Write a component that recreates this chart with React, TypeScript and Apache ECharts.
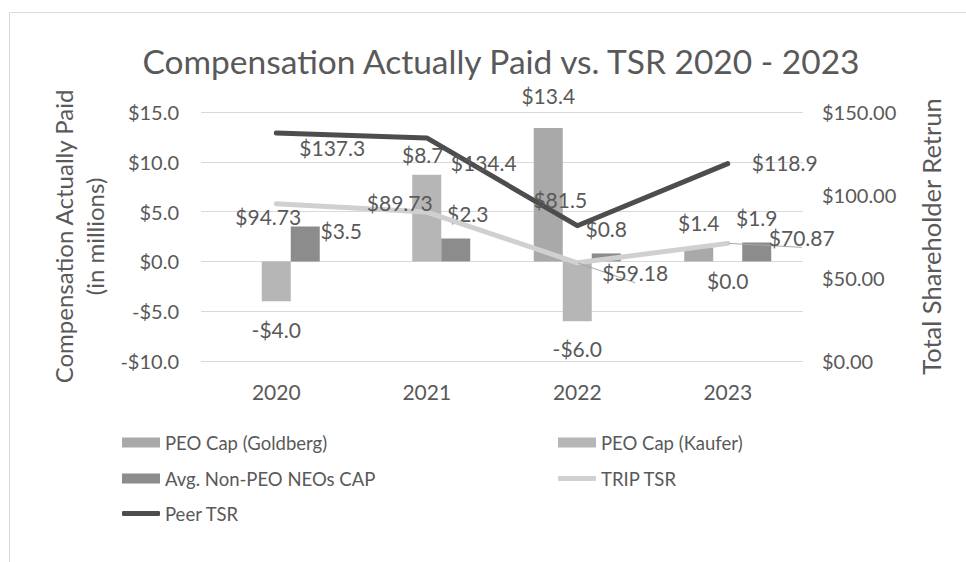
import React, { useEffect, useRef } from "react";
import * as echarts from "echarts";

const years = ["2020", "2021", "2022", "2023"];
const goldbergCap = [null, null, 13.4, 1.4];
const kauferCap = [-4.0, 8.7, -6.0, 0.0];
const avgNeoCap = [3.5, 2.3, 0.8, 1.9];
const tripTsr = [94.73, 89.73, 59.18, 70.87];
const peerTsr = [137.3, 134.4, 81.5, 118.9];

const leftTicks = { min: -10, max: 15, interval: 5 };
const rightTicks = { min: 0, max: 150, interval: 50 };

// label offsets (styling only)
const goldbergOffsets = [[0, 0], [0, 0], [0, -22], [0, -15]];
const kauferOffsets = [[0, 18], [-4, -10], [0, 17], [0, 9]];
const avgOffsets = [[36, 14], [12, -15], [0, -15], [0, -15]];
const peerOffsets = [[56, 14], [57, 25], [-17, -26], [57, -1]];
const tripOffsets = [[-8, 13], [-27, -10], [58, 10], [74, -6]];
const tripLeaders = [false, false, true, true];

const FONT = 'Lato, "Open Sans", sans-serif';
const TXT = "#595959";

const money1 = (v: number) => (v < 0 ? "-$" : "$") + Math.abs(v).toFixed(1);
const money2 = (v: number) => "$" + v.toFixed(2);

function barData(vals: (number | null)[], offs: number[][]) {
  return vals.map((v, i) =>
    v === null ? null : { value: v, label: { offset: offs[i] } }
  );
}

function lineData(vals: number[], offs: number[][], leaders?: boolean[]) {
  return vals.map((v, i) => ({
    value: v,
    label: { offset: offs[i] },
    labelLine: leaders && leaders[i]
      ? { show: true, lineStyle: { color: "#a6a6a6", width: 1 } }
      : { show: false },
  }));
}

export default function App() {
  const ref = useRef<HTMLDivElement>(null);
  useEffect(() => {
    if (!ref.current) return;
    const chart = echarts.init(ref.current, null, { renderer: "svg" });
    const barLabel = {
      show: true,
      position: "outside",
      distance: 0,
      fontSize: 21,
      lineHeight: 20,
      color: TXT,
      fontFamily: FONT,
      formatter: (p: any) => money1(p.value),
    };
    const legendBase = {
      itemWidth: 38,
      itemGap: 5,
      padding: 0,
      textStyle: { fontSize: 18.5, color: TXT, fontFamily: FONT },
      selectedMode: false,
    };
    chart.setOption({
      animation: false,
      backgroundColor: "#ffffff",
      textStyle: { fontFamily: FONT },
      title: {
        text: "Compensation Actually Paid vs. TSR 2020 - 2023",
        left: 496,
        top: 39,
        textAlign: "center",
        textStyle: { fontSize: 33.5, fontWeight: "normal", color: TXT, fontFamily: FONT },
      },
      graphic: [
        {
          type: "rect",
          shape: { x: 9.5, y: 12.5, width: 1000, height: 600 },
          style: { fill: "none", stroke: "#d9d9d9", lineWidth: 1 },
          silent: true,
        },
      ],
      grid: { left: 201, right: 163, top: 112, bottom: 201 },
      legend: [
        { ...legendBase, left: 122, top: 433, itemHeight: 10, data: [{ name: "PEO Cap (Goldberg)", icon: "rect" }] },
        { ...legendBase, left: 558, top: 433, itemHeight: 10, data: [{ name: "PEO Cap (Kaufer)", icon: "rect" }] },
        { ...legendBase, left: 122, top: 469, itemHeight: 10, data: [{ name: "Avg. Non-PEO NEOs CAP", icon: "rect" }] },
        { ...legendBase, left: 558, top: 469, itemHeight: 5, data: [{ name: "TRIP TSR", icon: "roundRect" }] },
        { ...legendBase, left: 122, top: 504, itemHeight: 5, data: [{ name: "Peer TSR", icon: "roundRect" }] },
      ],
      xAxis: {
        type: "category",
        data: years,
        axisLine: { show: false, onZero: false },
        axisTick: { show: false },
        axisLabel: { fontSize: 21, color: TXT, fontFamily: FONT, margin: 20 },
      },
      yAxis: [
        {
          type: "value",
          ...leftTicks,
          name: "Compensation Actually Paid\n(in millions)",
          nameLocation: "middle",
          nameRotate: 90,
          nameGap: 91,
          nameTextStyle: { fontSize: 24, lineHeight: 31, color: TXT, fontFamily: FONT },
          axisLabel: { fontSize: 20, color: TXT, fontFamily: FONT, margin: 22, formatter: (v: number) => money1(v) },
          splitLine: { lineStyle: { color: "#d9d9d9", width: 1 } },
          axisLine: { show: false },
          axisTick: { show: false },
        },
        {
          type: "value",
          ...rightTicks,
          position: "right",
          name: "Total Shareholder Retrun",
          nameLocation: "middle",
          nameRotate: 90,
          nameGap: 115,
          nameTextStyle: { fontSize: 25.5, color: TXT, fontFamily: FONT },
          axisLabel: { fontSize: 20, color: TXT, fontFamily: FONT, margin: 19, formatter: (v: number) => money2(v) },
          splitLine: { show: false },
          axisLine: { show: false },
          axisTick: { show: false },
        },
      ],
      series: [
        {
          name: "PEO Cap (Goldberg)",
          type: "bar",
          barWidth: 29,
          barGap: "0%",
          itemStyle: { color: "#a9a9a9" },
          label: barLabel,
          data: barData(goldbergCap, goldbergOffsets),
          z: 2,
        },
        {
          name: "PEO Cap (Kaufer)",
          type: "bar",
          barWidth: 29,
          barGap: "0%",
          itemStyle: { color: "#b6b6b6" },
          label: barLabel,
          data: barData(kauferCap, kauferOffsets),
          z: 2,
        },
        {
          name: "Avg. Non-PEO NEOs CAP",
          type: "bar",
          barWidth: 29,
          barGap: "0%",
          itemStyle: { color: "#8c8c8c" },
          label: barLabel,
          data: barData(avgNeoCap, avgOffsets),
          z: 2,
        },
        {
          name: "TRIP TSR",
          type: "line",
          yAxisIndex: 1,
          symbol: "circle",
          symbolSize: 2,
          showSymbol: true,
          lineStyle: { color: "#d0d0d0", width: 5, cap: "round", join: "round" },
          itemStyle: { color: "#d0d0d0" },
          label: {
            show: true,
            position: "inside",
            fontSize: 21,
            lineHeight: 20,
            color: TXT,
            fontFamily: FONT,
            formatter: (p: any) => money2(p.value),
          },
          data: lineData(tripTsr, tripOffsets, tripLeaders),
          z: 3,
        },
        {
          name: "Peer TSR",
          type: "line",
          yAxisIndex: 1,
          symbol: "circle",
          symbolSize: 2,
          showSymbol: true,
          lineStyle: { color: "#4d4d4d", width: 5, cap: "round", join: "round" },
          itemStyle: { color: "#4d4d4d" },
          label: {
            show: true,
            position: "inside",
            fontSize: 21,
            lineHeight: 20,
            color: TXT,
            fontFamily: FONT,
            formatter: (p: any) => money1(p.value),
          },
          data: lineData(peerTsr, peerOffsets),
          z: 4,
        },
      ],
    });
    return () => chart.dispose();
  }, []);
  return (
    <div
      ref={ref}
      style={{ position: "fixed", left: 0, top: 0, width: 966, height: 562, background: "#fff" }}
    />
  );
}
